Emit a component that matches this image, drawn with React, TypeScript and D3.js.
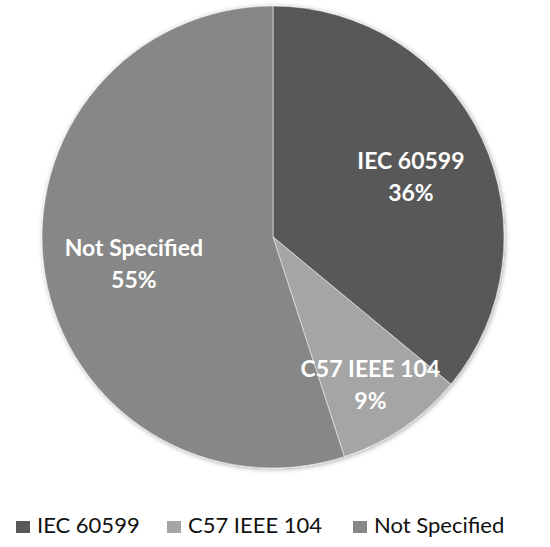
import React, { useRef, useEffect } from 'react';
import * as d3 from 'd3';

const categories = ['IEC 60599', 'C57 IEEE 104', 'Not Specified'];
const shares = [36, 9, 55];
const colors = ['#595959', '#a5a5a5', '#878787'];

const App = () => {
  const ref = useRef<SVGSVGElement>(null);

  useEffect(() => {
    const svg = d3.select(ref.current);
    svg.selectAll('*').remove();

    const height = 547;
    const cx = 273;
    const cy = 237;
    const radius = 231;

    const defs = svg.append('defs');
    const filter = defs.append('filter').attr('id', 'shadow')
      .attr('x', '-10%').attr('y', '-10%').attr('width', '120%').attr('height', '120%');
    filter.append('feDropShadow')
      .attr('dx', 1).attr('dy', 1).attr('stdDeviation', 2.5)
      .attr('flood-color', '#000').attr('flood-opacity', 0.35);

    const data = categories.map((c, i) => ({ name: c, value: shares[i], color: colors[i] }));

    const pie = d3.pie<any>().value(d => d.value).sort(null);
    const arcs = pie(data);

    const arc = d3.arc<any>().innerRadius(0).outerRadius(radius);

    const g = svg.append('g').attr('transform', `translate(${cx},${cy})`);

    g.append('g')
      .attr('filter', 'url(#shadow)')
      .selectAll('path')
      .data(arcs)
      .enter()
      .append('path')
      .attr('d', arc)
      .attr('fill', d => d.data.color)
      .attr('stroke', '#fff')
      .attr('stroke-width', 0.5);

    // label radius fraction per slice
    const labelFrac = [0.66, 0.75, 0.61];

    const labels = g.append('g')
      .selectAll('text')
      .data(arcs)
      .enter()
      .append('text')
      .attr('transform', (d, i) => {
        const la = d3.arc<any>().innerRadius(radius * labelFrac[i] * 2).outerRadius(0);
        const [x, y] = la.centroid(d);
        return `translate(${x},${y})`;
      })
      .attr('text-anchor', 'middle')
      .attr('fill', '#fff')
      .style('font-family', 'Lato, "Open Sans", sans-serif')
      .style('font-weight', 'bold')
      .style('font-size', '23px');

    labels.append('tspan')
      .attr('x', 0)
      .attr('dy', '-0.15em')
      .text(d => d.data.name);
    labels.append('tspan')
      .attr('x', 0)
      .attr('dy', '1.42em')
      .text(d => `${d.data.value}%`);

    // legend
    const legendX = [16, 167, 353];
    const legend = svg.append('g').attr('transform', `translate(0,${height - 14})`);
    const item = legend.selectAll('g')
      .data(data)
      .enter()
      .append('g')
      .attr('transform', (d, i) => `translate(${legendX[i]},0)`);
    item.append('rect')
      .attr('x', 0).attr('y', -12)
      .attr('width', 14).attr('height', 12)
      .attr('fill', d => d.color);
    item.append('text')
      .attr('x', 21)
      .attr('y', 0)
      .attr('fill', '#111')
      .style('font-family', 'Lato, "Open Sans", sans-serif')
      .style('font-size', '22px')
      .text(d => d.name);
  }, []);

  return (
    <svg
      ref={ref}
      width={550}
      height={547}
      style={{ position: 'absolute', left: 0, top: 0, background: '#fff' }}
    />
  );
};

export default App;
